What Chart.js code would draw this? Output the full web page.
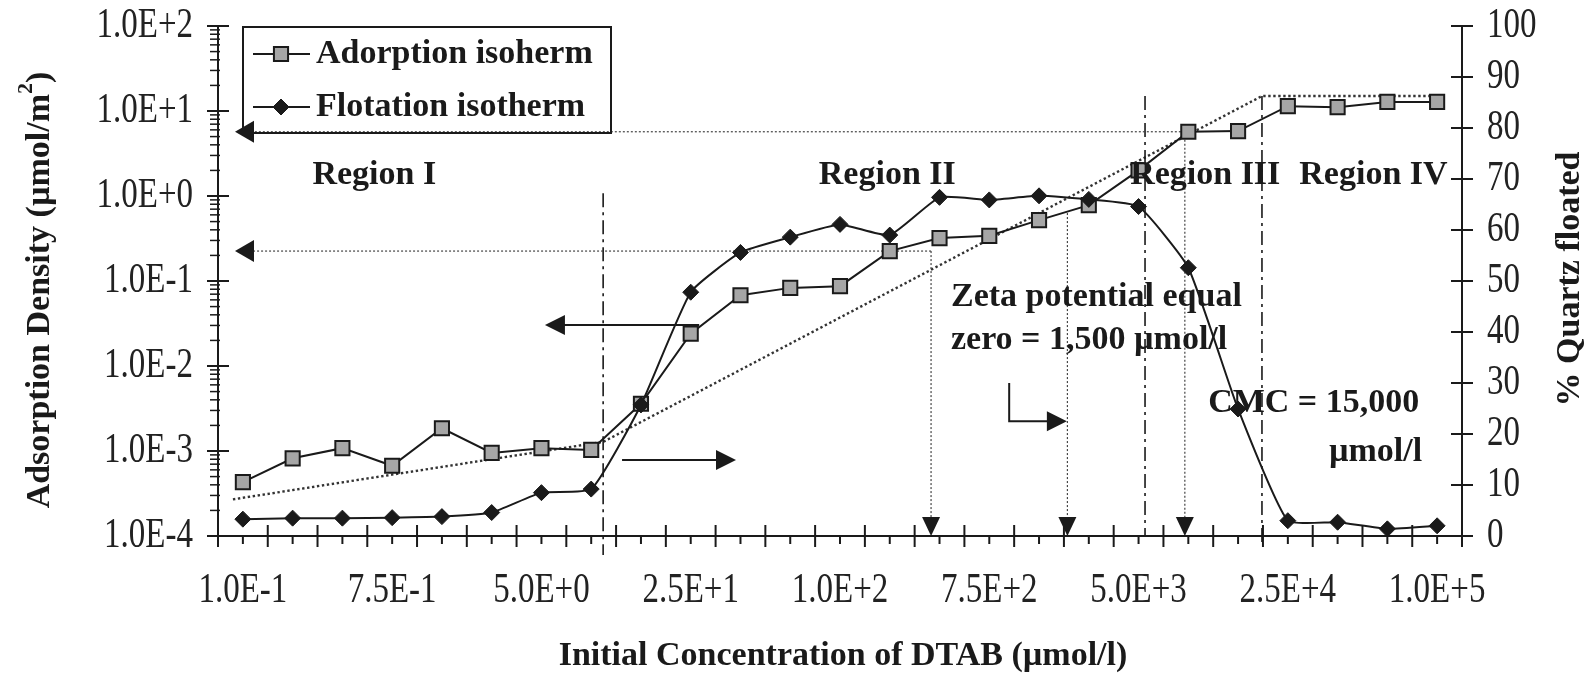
<!DOCTYPE html>
<html>
<head>
<meta charset="utf-8">
<script src="https://cdn.jsdelivr.net/npm/chart.js@4.4.1/dist/chart.umd.min.js"></script>
<style>
  html, body { margin: 0; background: #fff; }
  #wrap { width: 1589px; height: 678px; }
</style>
</head>
<body>
<div id="wrap"><canvas id="chart" width="1589" height="678"></canvas></div>
<script>
/* ---- data ---- */
const concLabels = ['1.0E-1','2.5E-1','5.0E-1','7.5E-1','1.0E+0','2.5E+0','5.0E+0','7.5E+0','1.0E+1',
                    '2.5E+1','5.0E+1','7.5E+1','1.0E+2','2.5E+2','5.0E+2','7.5E+2','1.0E+3','2.5E+3',
                    '5.0E+3','7.5E+3','1.0E+4','2.5E+4','5.0E+4','7.5E+4','1.0E+5'];
const labelEvery = 3;
// adsorption density, umol/m2 (left, log axis)
const adsorption = [4.3e-4, 8.2e-4, 1.08e-3, 6.7e-4, 1.85e-3, 9.5e-4, 1.08e-3, 1.03e-3, 3.6e-3,
                    2.4e-2, 6.8e-2, 8.3e-2, 8.7e-2, 0.225, 0.32, 0.34, 0.52, 0.78, 2.0,
                    5.7, 5.8, 11.4, 11.1, 12.8, 12.8];
// % quartz floated (right axis)
const flotation = [3.3, 3.5, 3.5, 3.6, 3.8, 4.6, 8.5, 9.2, 25.7,
                   47.8, 55.6, 58.6, 61.1, 59.0, 66.4, 65.9, 66.7, 66.0, 64.6,
                   52.6, 24.9, 3.0, 2.7, 1.4, 2.0];
const leftTicks = [1e-4, 1e-3, 1e-2, 1e-1, 1, 10, 100];
const rightTicks = [0, 10, 20, 30, 40, 50, 60, 70, 80, 90, 100];

/* ---- guide marks, in category index / axis value ---- */
const trendPath = [[-0.2, 2.7e-4], [7.24, 1.28e-3], [20.48, 15], [24.12, 15]];   // left axis
const regionLines = [[7.24, 1.08, 19], [18.13, 15, 0], [20.48, 15, 10]];          // x, top value, px below axis
const levelLines = [[18.93, adsorption[19]], [13.83, adsorption[13]]];             // dotted, back to left axis
const dropLines = [[13.83, adsorption[13]], [16.57, 0.63], [18.93, adsorption[19]]];
const notes = [
  ['Region I', 2.64, 70.8, 'center'],
  ['Region II', 12.95, 70.8, 'center'],
  ['Region III', 19.34, 70.8, 'center'],
  ['Region IV', 22.72, 70.8, 'center'],
  ['Zeta potential equal', 14.23, 46.9, 'left'],
  ['zero = 1,500 \u00b5mol/l', 14.23, 38.4, 'left'],
  ['CMC = 15,000', 23.64, 26.1, 'right'],
  ['\u00b5mol/l', 23.7, 16.5, 'right']
];

const SERIF = '"Liberation Serif", "Times New Roman", serif';
const INK = '#1a1a1a';

function seg(ctx, x1, y1, x2, y2) {
  ctx.beginPath(); ctx.moveTo(x1, y1); ctx.lineTo(x2, y2); ctx.stroke();
}
function head(ctx, x, y, dir, len, half) {
  ctx.beginPath();
  ctx.moveTo(x, y);
  if (dir === 'l') { ctx.lineTo(x + len, y - half); ctx.lineTo(x + len, y + half); }
  if (dir === 'r') { ctx.lineTo(x - len, y - half); ctx.lineTo(x - len, y + half); }
  if (dir === 'd') { ctx.lineTo(x - half, y - len); ctx.lineTo(x + half, y - len); }
  ctx.closePath(); ctx.fill();
}
// tick text in the scan is tall and narrow
function tallText(ctx, s, x, y, align) {
  ctx.save();
  ctx.translate(x, y); ctx.scale(1, 1.3);
  ctx.textAlign = align; ctx.textBaseline = 'middle';
  ctx.fillText(s, 0, 0);
  ctx.restore();
}
const expLabel = v => Number(v).toExponential(1).toUpperCase();

const decor = {
  id: 'decor',
  beforeDatasetsDraw(chart) {
    const ctx = chart.ctx;
    const { left, right, top, bottom } = chart.chartArea;
    const X = v => chart.scales.x.getPixelForValue(v);
    const YL = v => chart.scales.y.getPixelForValue(v);
    const YR = v => chart.scales.y1.getPixelForValue(v);
    ctx.save();
    ctx.strokeStyle = INK; ctx.fillStyle = INK;

    // axes
    ctx.lineWidth = 2;
    seg(ctx, left, top, left, bottom + 11);
    seg(ctx, right, top, right, bottom + 11);
    seg(ctx, left - 11, bottom, right + 11, bottom);
    leftTicks.forEach(v => seg(ctx, left - 11, YL(v), left + 11, YL(v)));
    rightTicks.forEach(v => seg(ctx, right - 11, YR(v), right + 11, YR(v)));
    for (let k = 0; k <= concLabels.length; k++) seg(ctx, X(k - 0.5), bottom - 11, X(k - 0.5), bottom + 11);
    concLabels.forEach((l, i) => seg(ctx, X(i), bottom, X(i), bottom + 8));
    ctx.lineWidth = 1.5;
    for (let d = -4; d < 2; d++) {
      for (let m = 2; m <= 9; m++) {
        const y = YL(m * Math.pow(10, d));
        seg(ctx, left - 8, y, left + 2, y);
      }
    }

    // tick labels
    ctx.font = '33px ' + SERIF; ctx.fillStyle = '#222';
    chart.scales.y.ticks.forEach(t => tallText(ctx, expLabel(t.value), left - 25, YL(t.value), 'right'));
    chart.scales.y1.ticks.forEach(t => tallText(ctx, String(t.value), right + 25, YR(t.value), 'left'));
    concLabels.forEach((l, i) => { if (i % labelEvery === 0) tallText(ctx, l, X(i), bottom + 55, 'center'); });
    ctx.fillStyle = INK;

    // dotted trend
    ctx.lineWidth = 2.4; ctx.setLineDash([2.4, 2.6]); ctx.strokeStyle = '#333';
    ctx.beginPath();
    trendPath.forEach(([i, v], n) => n ? ctx.lineTo(X(i), YL(v)) : ctx.moveTo(X(i), YL(v)));
    ctx.stroke();

    // region boundaries, dash-dot
    ctx.lineWidth = 1.6; ctx.setLineDash([14, 5, 3, 5]); ctx.strokeStyle = INK;
    regionLines.forEach(([i, v, below]) => seg(ctx, X(i), YL(v), X(i), bottom + below));

    // thin dotted level / drop lines
    ctx.lineWidth = 1.2; ctx.setLineDash([2, 2]); ctx.strokeStyle = '#444';
    levelLines.forEach(([i, v]) => seg(ctx, X(i), YL(v), left + 30, YL(v)));
    dropLines.forEach(([i, v]) => seg(ctx, X(i), YL(v), X(i), bottom - 18));
    ctx.setLineDash([]);
    dropLines.forEach(([i]) => head(ctx, X(i), bottom, 'd', 19, 9));

    // solid arrows
    ctx.lineWidth = 2; ctx.strokeStyle = INK;
    let y = YL(0.0303);
    seg(ctx, X(9.17), y, X(6.07) + 15, y); head(ctx, X(6.07), y, 'l', 20, 10);
    y = YR(14.9);
    seg(ctx, X(7.62), y, X(9.91) - 15, y); head(ctx, X(9.91), y, 'r', 20, 10);
    y = YR(22.5);
    ctx.beginPath(); ctx.moveTo(X(15.4), YR(30)); ctx.lineTo(X(15.4), y); ctx.lineTo(X(16.56) - 15, y); ctx.stroke();
    head(ctx, X(16.56), y, 'r', 20, 10);
    ctx.restore();
  },
  afterDatasetsDraw(chart) {
    const ctx = chart.ctx;
    const { left, right, top } = chart.chartArea;
    const X = v => chart.scales.x.getPixelForValue(v);
    const YL = v => chart.scales.y.getPixelForValue(v);
    const YR = v => chart.scales.y1.getPixelForValue(v);
    ctx.save();
    ctx.fillStyle = INK; ctx.strokeStyle = INK;
    ctx.textBaseline = 'middle';
    ctx.font = 'bold 34px ' + SERIF;
    notes.forEach(([t, i, p, a]) => { ctx.textAlign = a; ctx.fillText(t, X(i), YR(p)); });

    // legend
    const bx = left + 25, by = top + 1;
    ctx.lineWidth = 2;
    ctx.strokeRect(bx, by, 368, 106);
    chart.data.datasets.forEach((ds, n) => {
      const ly = by + 27 + n * 53, mx = bx + 38;
      ctx.strokeStyle = INK; ctx.lineWidth = 2;
      seg(ctx, bx + 10, ly, bx + 67, ly);
      ctx.fillStyle = ds.pointBackgroundColor; ctx.strokeStyle = ds.pointBorderColor;
      ctx.lineWidth = ds.pointBorderWidth;
      ctx.beginPath();
      if (ds.pointStyle === 'rect') {
        const s = Math.SQRT1_2 * ds.pointRadius;
        ctx.rect(mx - s, ly - s, 2 * s, 2 * s);
      } else {
        const r = ds.pointRadius;
        ctx.moveTo(mx - r, ly); ctx.lineTo(mx, ly - r); ctx.lineTo(mx + r, ly); ctx.lineTo(mx, ly + r);
        ctx.closePath();
      }
      ctx.fill(); ctx.stroke();
      ctx.fillStyle = INK; ctx.textAlign = 'left';
      ctx.fillText(ds.label, bx + 73, ly);
    });
    // level arrows sit over the legend frame
    levelLines.forEach(([i, v]) => head(ctx, left + 17, YL(v), 'l', 19, 11));

    // axis titles
    ctx.font = 'bold 34px ' + SERIF;
    ctx.textAlign = 'center';
    ctx.fillText('Initial Concentration of DTAB (\u00b5mol/l)', (left + right) / 2 + 3, 656);

    ctx.save();
    ctx.translate(40, 290); ctx.rotate(-Math.PI / 2);
    const a = 'Adsorption Density (\u00b5mol/m', c = ')';
    const wa = ctx.measureText(a).width, wc = ctx.measureText(c).width;
    ctx.font = 'bold 22px ' + SERIF;
    const wb = ctx.measureText('2').width;
    const x0 = -(wa + wb + wc) / 2;
    ctx.textAlign = 'left';
    ctx.font = 'bold 34px ' + SERIF; ctx.fillText(a, x0, 0);
    ctx.font = 'bold 22px ' + SERIF; ctx.fillText('2', x0 + wa, -14);
    ctx.font = 'bold 34px ' + SERIF; ctx.fillText(c, x0 + wa + wb, 0);
    ctx.restore();

    ctx.save();
    ctx.translate(1570, 279); ctx.rotate(-Math.PI / 2);
    ctx.textAlign = 'center';
    ctx.fillText('% Quartz floated', 0, 0);
    ctx.restore();
    ctx.restore();
  }
};

new Chart(document.getElementById('chart'), {
  type: 'line',
  data: {
    labels: concLabels,
    datasets: [
      {
        label: 'Adorption isoherm', data: adsorption, yAxisID: 'y', order: 1,
        borderColor: INK, borderWidth: 2, tension: 0,
        pointStyle: 'rect', pointRadius: 10, pointBackgroundColor: '#a6a6a6',
        pointBorderColor: INK, pointBorderWidth: 2
      },
      {
        label: 'Flotation isotherm', data: flotation, yAxisID: 'y1', order: 0,
        borderColor: INK, borderWidth: 2, tension: 0.15,
        pointStyle: 'rectRot', pointRadius: 8, pointBackgroundColor: INK,
        pointBorderColor: INK, pointBorderWidth: 1
      }
    ]
  },
  options: {
    responsive: false,
    animation: false,
    devicePixelRatio: 1,
    layout: { padding: { top: 26, left: 0, right: 0, bottom: 0 } },
    plugins: { legend: { display: false }, tooltip: { enabled: false } },
    scales: {
      x: {
        type: 'category', offset: true,
        grid: { display: false, drawTicks: false }, border: { display: false },
        ticks: { display: false, autoSkip: false },
        afterFit: s => { s.height = 142; }
      },
      y: {
        type: 'logarithmic', position: 'left', min: 1e-4, max: 100,
        grid: { display: false, drawTicks: false }, border: { display: false },
        afterBuildTicks: s => { s.ticks = leftTicks.map(v => ({ value: v })); },
        ticks: { display: false },
        afterFit: s => { s.width = 218; }
      },
      y1: {
        type: 'linear', position: 'right', min: 0, max: 100,
        grid: { display: false, drawTicks: false }, border: { display: false },
        afterBuildTicks: s => { s.ticks = rightTicks.map(v => ({ value: v })); },
        ticks: { display: false },
        afterFit: s => { s.width = 127; }
      }
    }
  },
  plugins: [decor]
});
</script>
</body>
</html>
